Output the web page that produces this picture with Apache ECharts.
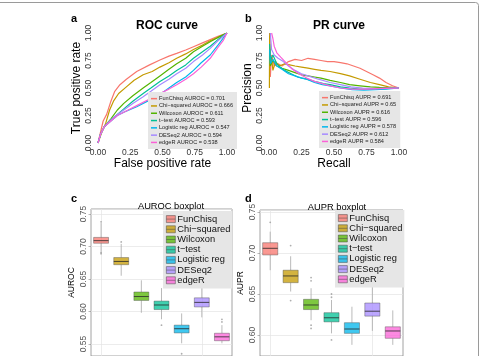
<!DOCTYPE html>
<html>
<head>
<meta charset="utf-8">
<script src="https://cdn.jsdelivr.net/npm/echarts@6/dist/echarts.min.js"></script>
<style>
html,body{margin:0;padding:0;background:#fff;overflow:hidden;}
#main{width:481px;height:356px;}
</style>
</head>
<body>
<div id="main"></div>
<script>
// methods, colours and scores
const methods = ['FunChisq', 'Chi\u2212squared', 'Wilcoxon', 't\u2212test', 'Logistic reg', 'DESeq2', 'edgeR'];
const colors = ['#F8766D', '#C49A00', '#53B400', '#00C094', '#00B6EB', '#A58AFF', '#FB61D7'];
const boxFill = ['rgba(248,118,109,0.75)', 'rgba(196,154,0,0.75)', 'rgba(83,180,0,0.75)', 'rgba(0,192,148,0.75)',
  'rgba(0,182,235,0.75)', 'rgba(165,138,255,0.75)', 'rgba(251,97,215,0.75)'];
const aurocText = ['0.701', '0.666', '0.611', '0.593', '0.547', '0.594', '0.538'];
const auprText = ['0.691', '0.65', '0.616', '0.596', '0.578', '0.612', '0.584'];

// ROC curves [fpr, tpr]
const rocFunChisq = [[0,0],[0.02,0.1],[0.04,0.2],[0.067,0.26],[0.1,0.38],[0.13,0.47],[0.17,0.53],[0.22,0.58],[0.3,0.65],[0.4,0.71],[0.48,0.755],[0.55,0.79],[0.61,0.815],[0.68,0.845],[0.74,0.875],[0.81,0.91],[0.87,0.94],[0.93,0.97],[1,1]];
const rocChisq = [[0,0],[0.03,0.1],[0.06,0.18],[0.09,0.3],[0.12,0.38],[0.16,0.45],[0.22,0.51],[0.28,0.57],[0.35,0.62],[0.42,0.65],[0.48,0.69],[0.55,0.73],[0.61,0.77],[0.68,0.81],[0.74,0.85],[0.81,0.89],[0.87,0.93],[0.93,0.96],[1,1]];
const rocWilcoxon = [[0,0],[0.02,0.08],[0.05,0.15],[0.1,0.22],[0.15,0.3],[0.2,0.36],[0.27,0.43],[0.35,0.5],[0.41,0.55],[0.48,0.61],[0.55,0.67],[0.61,0.72],[0.68,0.77],[0.74,0.83],[0.81,0.88],[0.87,0.92],[0.93,0.96],[1,1]];
const rocTtest = [[0,0],[0.02,0.08],[0.05,0.15],[0.1,0.21],[0.15,0.26],[0.2,0.31],[0.27,0.38],[0.35,0.45],[0.41,0.5],[0.48,0.56],[0.55,0.61],[0.61,0.66],[0.68,0.71],[0.74,0.77],[0.81,0.83],[0.87,0.88],[0.93,0.94],[1,1]];
const rocLogistic = [[0,0],[0.02,0.08],[0.05,0.15],[0.1,0.2],[0.15,0.25],[0.2,0.28],[0.3,0.33],[0.4,0.39],[0.48,0.44],[0.55,0.5],[0.61,0.55],[0.68,0.6],[0.74,0.66],[0.8,0.73],[0.87,0.8],[0.93,0.89],[1,1]];
const rocDESeq2 = [[0,0],[0.02,0.08],[0.05,0.15],[0.1,0.21],[0.15,0.26],[0.2,0.3],[0.27,0.36],[0.35,0.42],[0.41,0.47],[0.48,0.53],[0.55,0.58],[0.61,0.63],[0.68,0.68],[0.74,0.74],[0.81,0.8],[0.87,0.86],[0.93,0.93],[1,1]];
const rocEdgeR = [[0,0],[0.02,0.08],[0.05,0.15],[0.1,0.2],[0.15,0.25],[0.2,0.28],[0.3,0.34],[0.4,0.4],[0.48,0.45],[0.55,0.49],[0.61,0.53],[0.68,0.58],[0.74,0.63],[0.8,0.69],[0.87,0.77],[0.93,0.87],[0.97,0.93],[1,1]];
const rocCurves = [rocFunChisq, rocChisq, rocWilcoxon, rocTtest, rocLogistic, rocDESeq2, rocEdgeR];

// PR curves [recall, precision]
const prFunChisq = [[0.005,1],[0.01,0.6],[0.02,0.8],[0.04,0.7],[0.07,0.72],[0.1,0.7],[0.15,0.74],[0.2,0.76],[0.25,0.75],[0.3,0.77],[0.35,0.76],[0.4,0.75],[0.45,0.74],[0.5,0.74],[0.55,0.73],[0.6,0.72],[0.65,0.7],[0.7,0.68],[0.75,0.65],[0.8,0.62],[0.85,0.59],[0.9,0.55],[0.95,0.52],[1,0.5]];
const prChisq = [[0.003,0.5],[0.005,1],[0.01,0.7],[0.02,0.78],[0.03,0.66],[0.05,0.74],[0.08,0.7],[0.12,0.72],[0.16,0.71],[0.2,0.7],[0.25,0.69],[0.3,0.68],[0.35,0.67],[0.4,0.66],[0.47,0.65],[0.55,0.63],[0.62,0.61],[0.7,0.58],[0.78,0.55],[0.85,0.53],[0.92,0.51],[1,0.5]];
const prWilcoxon = [[0.005,0.85],[0.01,0.7],[0.03,0.75],[0.06,0.7],[0.1,0.68],[0.15,0.66],[0.2,0.64],[0.25,0.62],[0.3,0.61],[0.35,0.6],[0.4,0.59],[0.47,0.57],[0.55,0.55],[0.62,0.53],[0.7,0.52],[0.78,0.51],[0.85,0.505],[1,0.5]];
const prTtest = [[0.005,0.9],[0.01,0.75],[0.03,0.8],[0.06,0.72],[0.085,0.69],[0.12,0.66],[0.17,0.63],[0.22,0.6],[0.29,0.58],[0.35,0.56],[0.42,0.54],[0.47,0.53],[0.55,0.51],[0.62,0.5],[0.7,0.49],[0.8,0.49],[0.9,0.495],[1,0.5]];
const prLogistic = [[0.005,0.85],[0.01,0.72],[0.03,0.76],[0.06,0.7],[0.1,0.67],[0.15,0.63],[0.2,0.61],[0.25,0.59],[0.29,0.58],[0.35,0.55],[0.41,0.53],[0.47,0.52],[0.55,0.5],[0.64,0.485],[0.73,0.48],[0.82,0.485],[0.9,0.49],[1,0.5]];
const prDESeq2 = [[0.01,1],[0.02,0.85],[0.04,0.8],[0.07,0.77],[0.11,0.74],[0.15,0.7],[0.2,0.66],[0.25,0.63],[0.3,0.61],[0.38,0.58],[0.47,0.55],[0.55,0.53],[0.63,0.51],[0.72,0.5],[0.82,0.495],[0.9,0.5],[1,0.5]];
const prEdgeR = [[0.02,1],[0.03,0.95],[0.04,0.88],[0.06,0.82],[0.09,0.78],[0.13,0.73],[0.18,0.67],[0.23,0.63],[0.29,0.59],[0.35,0.56],[0.41,0.54],[0.47,0.52],[0.55,0.5],[0.64,0.49],[0.75,0.49],[0.85,0.495],[1,0.5]];
const prCurves = [prFunChisq, prChisq, prWilcoxon, prTtest, prLogistic, prDESeq2, prEdgeR];

// boxplots: [min, Q1, median, Q3, max]
const aurocBox = [[0.687,0.705,0.709,0.714,0.736],[0.655,0.672,0.677,0.683,0.704],[0.598,0.617,0.623,0.630,0.648],
  [0.588,0.603,0.610,0.616,0.636],[0.551,0.567,0.5735,0.579,0.597],[0.591,0.607,0.614,0.621,0.641],[0.551,0.555,0.561,0.5665,0.579]];
const aurocOut = [[0,0.738],[0,0.690],[1,0.707],[3,0.579],[4,0.535],[6,0.588],[6,0.584]];
const auprBox = [[0.679,0.6976,0.7057,0.7125,0.726],[0.653,0.6638,0.672,0.679,0.696],[0.618,0.631,0.6366,0.6435,0.657],
  [0.602,0.616,0.621,0.6272,0.6427],[0.588,0.602,0.6073,0.615,0.6345],[0.605,0.623,0.629,0.639,0.66],[0.588,0.596,0.6049,0.610,0.630]];
const auprOut = [[0,0.7374],[1,0.709],[1,0.642],[2,0.670],[2,0.666],[2,0.612],[2,0.608],[3,0.65],[3,0.646],[3,0.594]];

const font = 'Liberation Sans, Arial, sans-serif';

function boxItem(params, api) {
  const i = api.value(0);
  const lo = api.coord([i, api.value(1)]);
  const q1 = api.coord([i, api.value(2)]);
  const md = api.coord([i, api.value(3)]);
  const q3 = api.coord([i, api.value(4)]);
  const hi = api.coord([i, api.value(5)]);
  const w = api.size([1, 0])[0] * 0.74;
  const x = lo[0];
  return {
    type: 'group',
    children: [
      {type: 'line', shape: {x1: x, y1: hi[1], x2: x, y2: q3[1]}, style: {stroke: '#a8a8a8', lineWidth: 0.8}},
      {type: 'line', shape: {x1: x, y1: q1[1], x2: x, y2: lo[1]}, style: {stroke: '#a8a8a8', lineWidth: 0.8}},
      {type: 'rect', shape: {x: x - w / 2, y: q3[1], width: w, height: q1[1] - q3[1]},
        style: {fill: boxFill[i], stroke: 'rgba(70,70,70,0.5)', lineWidth: 0.8}},
      {type: 'line', shape: {x1: x - w / 2, y1: md[1], x2: x + w / 2, y2: md[1]},
        style: {stroke: 'rgba(40,40,40,0.8)', lineWidth: 1}}
    ]
  };
}

function curveAxis(idx, name, rotate, gap) {
  return {
    gridIndex: idx, type: 'value', min: 0, max: 1, interval: 0.25,
    axisLine: {show: false}, axisTick: {show: false}, splitLine: {show: false},
    axisLabel: {formatter: v => v.toFixed(2), fontSize: 8.5, color: '#333', fontFamily: font, rotate: rotate, margin: 5},
    name: name, nameLocation: 'middle', nameGap: gap,
    nameTextStyle: {fontSize: 12, color: '#000', fontFamily: font}
  };
}

function boxYAxis(idx, name, min, max, split) {
  return {
    gridIndex: idx, type: 'value', min: min, max: max, splitNumber: split,
    axisLine: {show: false},
    axisTick: {show: true, length: 2.5, lineStyle: {color: '#888', width: 0.6}},
    splitLine: {show: true, lineStyle: {color: '#e4e4e4', width: 0.7}},
    axisLabel: {formatter: v => v.toFixed(2), fontSize: 8.5, color: '#555', fontFamily: font, rotate: 90, margin: 3,
      showMinLabel: false, showMaxLabel: false},
    name: name, nameLocation: 'middle', nameGap: 15,
    nameTextStyle: {fontSize: 8.5, color: '#000', fontFamily: font}
  };
}

function boxXAxis(idx) {
  return {
    gridIndex: idx, type: 'category', data: methods,
    axisLine: {show: false}, axisTick: {show: false}, axisLabel: {show: false},
    splitLine: {show: true, alignWithLabel: true, lineStyle: {color: '#e4e4e4', width: 0.7}}
  };
}

function curveLegend(left, top, labels, tag) {
  return {
    left: left, top: top, orient: 'vertical', itemWidth: 6, itemHeight: 1.5, itemGap: 0,
    padding: [3, 4, 3, 3], backgroundColor: '#e6e6e6', borderRadius: 0,
    textStyle: {fontSize: 5.6, lineHeight: 7.3, color: '#222', fontFamily: font, padding: [0, 0, 0, -3]},
    formatter: n => n + ' ' + tag + ' = ' + labels[methods.indexOf(n)],
    data: methods.map((m, i) => ({name: m, icon: 'rect', itemStyle: {color: colors[i]}}))
  };
}

function boxLegend(left, top) {
  return {
    left: left, top: top, orient: 'vertical', itemWidth: 9, itemHeight: 7, itemGap: 0,
    padding: [3, 2, 3, 3], backgroundColor: '#e6e6e6',
    textStyle: {fontSize: 9.3, lineHeight: 10.2, color: '#111', fontFamily: font, padding: [0, 0, 0, -3]},
    data: methods.map((m, i) => ({
      name: m, icon: 'path://M0,0H9V7H0Z M0,3.5H9',
      itemStyle: {color: boxFill[i], borderColor: 'rgba(70,70,70,0.7)', borderWidth: 0.7}
    }))
  };
}

const series = [];
rocCurves.forEach((d, i) => series.push({
  name: methods[i], type: 'line', xAxisIndex: 0, yAxisIndex: 0, data: d,
  showSymbol: false, color: colors[i], lineStyle: {width: 1.2}
}));
prCurves.forEach((d, i) => series.push({
  name: methods[i], type: 'line', xAxisIndex: 1, yAxisIndex: 1, data: d,
  showSymbol: false, color: colors[i], lineStyle: {width: 1.2}
}));
series.push({
  name: 'AUROC', type: 'custom', xAxisIndex: 2, yAxisIndex: 2, clip: true, renderItem: boxItem,
  data: aurocBox.map((b, i) => [i].concat(b))
});
series.push({
  name: 'AUROC outliers', type: 'scatter', xAxisIndex: 2, yAxisIndex: 2, data: aurocOut,
  symbolSize: 1.8, itemStyle: {color: '#9a9a9a'}
});
series.push({
  name: 'AUPR', type: 'custom', xAxisIndex: 3, yAxisIndex: 3, clip: true, renderItem: boxItem,
  data: auprBox.map((b, i) => [i].concat(b))
});
series.push({
  name: 'AUPR outliers', type: 'scatter', xAxisIndex: 3, yAxisIndex: 3, data: auprOut,
  symbolSize: 1.8, itemStyle: {color: '#9a9a9a'}
});

const titleStyle = {fontFamily: font, color: '#000'};
const option = {
  animation: false,
  backgroundColor: '#fff',
  title: [
    {text: 'a', left: 66, top: 8, textStyle: Object.assign({fontSize: 11, fontWeight: 'bold'}, titleStyle)},
    {text: 'b', left: 240, top: 8, textStyle: Object.assign({fontSize: 11, fontWeight: 'bold'}, titleStyle)},
    {text: 'c', left: 66, top: 188, textStyle: Object.assign({fontSize: 11, fontWeight: 'bold'}, titleStyle)},
    {text: 'd', left: 240, top: 188, textStyle: Object.assign({fontSize: 11, fontWeight: 'bold'}, titleStyle)},
    {text: 'ROC curve', left: 162, top: 15, textAlign: 'center', textStyle: Object.assign({fontSize: 12, fontWeight: 'bold'}, titleStyle)},
    {text: 'PR curve', left: 334, top: 15, textAlign: 'center', textStyle: Object.assign({fontSize: 12, fontWeight: 'bold'}, titleStyle)},
    {text: 'AUROC boxplot', left: 166, top: 197, textAlign: 'center', textStyle: Object.assign({fontSize: 9.3, fontWeight: 'normal'}, titleStyle)},
    {text: 'AUPR boxplot', left: 332, top: 198, textAlign: 'center', textStyle: Object.assign({fontSize: 9.3, fontWeight: 'normal'}, titleStyle)}
  ],
  grid: [
    {left: 98, top: 33, width: 129, height: 110},
    {left: 269, top: 33, width: 130, height: 110},
    {left: 91, top: 209, width: 141, bottom: 0, show: true, backgroundColor: '#fff', borderColor: '#8c8c8c', borderWidth: 0.8},
    {left: 260, top: 210, width: 143, bottom: 0, show: true, backgroundColor: '#fff', borderColor: '#8c8c8c', borderWidth: 0.8}
  ],
  xAxis: [
    curveAxis(0, 'False positive rate', 0, 14),
    curveAxis(1, 'Recall', 0, 14),
    boxXAxis(2),
    boxXAxis(3)
  ],
  yAxis: [
    curveAxis(0, 'True positive rate', 90, 15),
    curveAxis(1, 'Precision', 90, 15),
    boxYAxis(2, 'AUROC', 0.5315, 0.7577, 5),
    boxYAxis(3, 'AUPR', 0.5744, 0.7524, 4)
  ],
  legend: [
    curveLegend(148, 92, aurocText, 'AUROC'),
    curveLegend(319, 91, auprText, 'AUPR'),
    boxLegend(163, 211),
    boxLegend(335, 210)
  ],
  graphic: [{
    type: 'rect', silent: true, z: 100,
    shape: {x: -5.5, y: 2.5, width: 484, height: 400, r: 3},
    style: {fill: 'none', stroke: '#9a9a9a', lineWidth: 1}
  }],
  series: series
};

const chart = echarts.init(document.getElementById('main'));
chart.setOption(option);
</script>
</body>
</html>
